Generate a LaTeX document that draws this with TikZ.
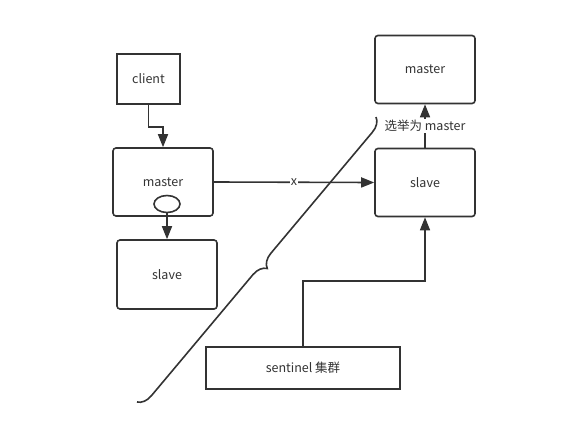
\documentclass[tikz,border=0pt]{standalone}
\usepackage{fontspec}
\setmainfont{Noto Sans CJK SC}
\usepackage{tikz}
\usetikzlibrary{positioning, shapes.geometric, arrows.meta, calc, decorations.pathreplacing}
\definecolor{ink}{HTML}{333333}

\begin{document}
\begin{tikzpicture}[
        x=1pt, y=-1pt,
        font=\fontsize{12.5}{14}\selectfont,
        base/.style={rectangle, draw=ink, line width=1.6pt, text=ink, align=center, inner sep=3pt},
        box/.style={base, rounded corners=3pt, minimum width=100pt, minimum height=68pt},
        flat/.style={base, minimum width=63pt, minimum height=50pt},
        connector/.style={-{Triangle[length=13pt, width=10pt]}, draw=ink, line width=1.6pt},
        lbl/.style={fill=white, text=ink, inner sep=1pt}
    ]
        \useasboundingbox (0,0) rectangle (569,425);

        \node (client) [flat] at (148.5,79) {client};
        \node (master) [box] at (163,182) {master};
        \node (port) [ellipse, draw=ink, line width=1.6pt, minimum width=26pt, minimum height=17pt, inner sep=0pt] at (167,204) {};
        \node (oldslave) [box, minimum width=100pt, minimum height=69pt] at (167,274.5) {slave};
        \node (slave) [box] at (425,182.5) {slave};
        \node (newmaster) [box] at (425,69.5) {master};
        \node (sentinel) [base, minimum width=194pt, minimum height=42pt] at (303,368) {sentinel 集群};

        \draw [connector] (client.south) -- ++(0,22) -| (master.north);
        \draw [connector] (port.south) -- (oldslave.north);
        \draw [connector] (master.east) -- node [lbl] {x} (slave.west);
        \draw [connector] (slave.north) -- node [lbl] {选举为 master} (newmaster.south);
        \draw [connector] (sentinel.north) -- ++(0,-65) -| (slave.south);

        % split line
        \coordinate (cuttop) at (376,117);
        \coordinate (cutbot) at (137,402);
        \draw [ink, line width=1.6pt, decorate, decoration={brace, amplitude=14pt}] (cuttop) -- (cutbot);
    \end{tikzpicture}
\end{document}
